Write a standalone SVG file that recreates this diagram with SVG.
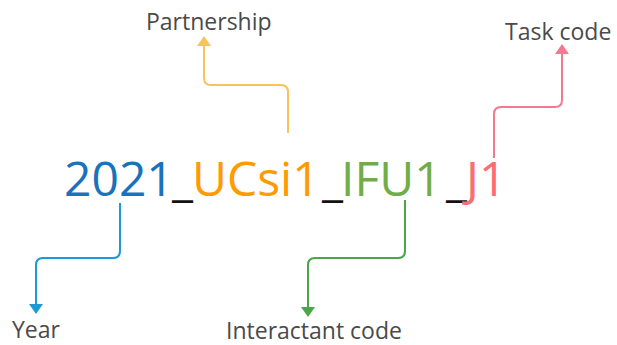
<svg xmlns="http://www.w3.org/2000/svg" width="617" height="345" viewBox="0 0 617 345">
<style>
.lbl{font-family:"Open Sans","Noto Sans",sans-serif;font-size:23px;fill:#4a4a4a}
.code{font-family:"Open Sans","Noto Sans",sans-serif;font-size:48px}
.c{fill:none;stroke-width:2;stroke-linejoin:round}
</style>
<defs>
<marker id="mb" markerWidth="10" markerHeight="14" refX="0" refY="7" orient="auto" markerUnits="userSpaceOnUse" viewBox="0 0 10 14"><path d="M0,0 L10,7 L0,14 Z" fill="#1b9ad6"/></marker>
<marker id="mg" markerWidth="10" markerHeight="14" refX="0" refY="7" orient="auto" markerUnits="userSpaceOnUse" viewBox="0 0 10 14"><path d="M0,0 L10,7 L0,14 Z" fill="#4aa64a"/></marker>
<marker id="my" markerWidth="10" markerHeight="14" refX="0" refY="7" orient="auto" markerUnits="userSpaceOnUse" viewBox="0 0 10 14"><path d="M0,0 L10,7 L0,14 Z" fill="#f7c35f"/></marker>
<marker id="mp" markerWidth="10" markerHeight="14" refX="0" refY="7" orient="auto" markerUnits="userSpaceOnUse" viewBox="0 0 10 14"><path d="M0,0 L10,7 L0,14 Z" fill="#f27a90"/></marker>
</defs>
<g id="connectors">
<path class="c" stroke="#1b9ad6" d="M120,203 V251 Q120,258 113,258 H43 Q36,258 36,265 V304" marker-end="url(#mb)"/>
<path class="c" stroke="#4aa64a" d="M405,200 V251 Q405,258 398,258 H315 Q308,258 308,265 V307" marker-end="url(#mg)"/>
<path class="c" stroke="#f7c35f" d="M288,133 V92 Q288,85 281,85 H211 Q204,85 204,78 V46" marker-end="url(#my)"/>
<path class="c" stroke="#f27a90" d="M494,158 V114 Q494,107 501,107 H555 Q562,107 562,100 V54" marker-end="url(#mp)"/>
</g>
<g id="code">
<text class="code" y="196"><tspan x="64" fill="#1a72bb">2021</tspan><tspan x="172" fill="#111">_</tspan><tspan x="192" fill="#ff9a00">UCsi1</tspan><tspan x="322" fill="#111">_</tspan><tspan x="341" fill="#71ad47">IFU1</tspan><tspan x="446" fill="#111">_</tspan><tspan x="466" fill="#ff6b73">J1</tspan></text>
</g>
<g id="partnership"><text class="lbl" x="146" y="30">Partnership</text></g>
<g id="task"><text class="lbl" x="505" y="40">Task code</text></g>
<g id="year"><text class="lbl" x="12" y="338">Year</text></g>
<g id="interactant"><text class="lbl" x="226" y="339">Interactant code</text></g>
</svg>
